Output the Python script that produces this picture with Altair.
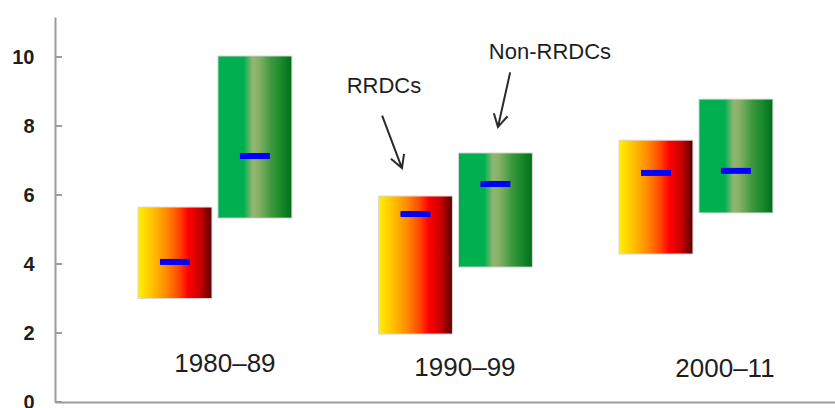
import altair as alt
import pandas as pd

# Ranges (low/high) and central value per decade, for the two country groups
periods = ["1980–89", "1990–99", "2000–11"]
groups = ["RRDCs", "Non-RRDCs"]

rrdc_low = [3.0, 1.97, 4.29]
rrdc_high = [5.65, 5.97, 7.59]
rrdc_mid = [4.06, 5.45, 6.64]

non_low = [5.33, 3.91, 5.48]
non_high = [10.03, 7.22, 8.78]
non_mid = [7.13, 6.32, 6.70]

y_ticks = [0, 2, 4, 6, 8, 10]

rows = []
for i, p in enumerate(periods):
    rows.append(dict(period=p, group="RRDCs", low=rrdc_low[i], high=rrdc_high[i], mid=rrdc_mid[i]))
    rows.append(dict(period=p, group="Non-RRDCs", low=non_low[i], high=non_high[i], mid=non_mid[i]))
df = pd.DataFrame(rows)
period_df = pd.DataFrame({"period": periods})

FONT = "Liberation Sans"
INK = "#1e1e1e"
AXIS_GREY = "#9b9b9b"

x_scale = alt.Scale(domain=periods, paddingInner=0.36, paddingOuter=0.3016, align=0.572)
off_scale = alt.Scale(domain=groups, paddingInner=0.075, paddingOuter=0)
y_scale = alt.Scale(domain=[0, 11.16], nice=False, zero=True)

x_axis = alt.Axis(labels=False, ticks=False, title=None, grid=False,
                  domainColor=AXIS_GREY, domainWidth=2)
y_axis = alt.Axis(values=y_ticks, ticks=False, grid=False, title=None,
                  domainColor=AXIS_GREY, domainWidth=2,
                  labelFont=FONT, labelFontSize=20, labelFontWeight="bold",
                  labelColor=INK, labelPadding=21)

x_enc = alt.X("period:N", scale=x_scale, axis=x_axis, sort=periods)
off_enc = alt.XOffset("group:N", scale=off_scale, sort=groups)


def ydatum(v):
    return alt.Y(datum=v, type="quantitative", scale=y_scale, axis=y_axis)


warm = alt.Gradient(
    gradient="linear", x1=0, x2=1, y1=0, y2=0,
    stops=[
        alt.GradientStop(color="#FFF200", offset=0.0),
        alt.GradientStop(color="#FFBF00", offset=0.2),
        alt.GradientStop(color="#FF8C00", offset=0.38),
        alt.GradientStop(color="#FF4A00", offset=0.55),
        alt.GradientStop(color="#FF0000", offset=0.68),
        alt.GradientStop(color="#D00000", offset=0.83),
        alt.GradientStop(color="#5A0000", offset=1.0),
    ],
)
green = alt.Gradient(
    gradient="linear", x1=0, x2=1, y1=0, y2=0,
    stops=[
        alt.GradientStop(color="#00B050", offset=0.0),
        alt.GradientStop(color="#00B050", offset=0.35),
        alt.GradientStop(color="#93B672", offset=0.47),
        alt.GradientStop(color="#86B066", offset=0.55),
        alt.GradientStop(color="#3C983E", offset=0.72),
        alt.GradientStop(color="#1A8A2A", offset=0.85),
        alt.GradientStop(color="#006E1E", offset=1.0),
    ],
)


def range_bars(group, fill):
    return (
        alt.Chart(df)
        .transform_filter(alt.datum.group == group)
        .mark_bar(fill=fill, fillOpacity=1, stroke="#d8d8d8", strokeWidth=1)
        .encode(
            x=x_enc,
            xOffset=off_enc,
            y=alt.Y("low:Q", scale=y_scale, axis=y_axis),
            y2="high:Q",
        )
    )


mids = (
    alt.Chart(df)
    .mark_tick(color="#0000FF", thickness=6, size=30, opacity=1)
    .encode(x=x_enc, xOffset=off_enc, y=alt.Y("mid:Q", scale=y_scale, axis=y_axis))
)

# Decade labels sit inside the plot, just above the baseline
label_nudge = {"1980–89": (10, 1.10), "1990–99": (9.5, 0.99), "2000–11": (29, 0.96)}
year_labels = []
for p in periods:
    dx, yv = label_nudge[p]
    year_labels.append(
        alt.Chart(period_df)
        .transform_filter(alt.datum.period == p)
        .mark_text(dx=dx, font=FONT, fontSize=26, color=INK, align="center", baseline="middle")
        .encode(x=x_enc, y=ydatum(yv), text="period:N")
    )

# Group call-outs with arrows, anchored on the 1990–99 pair
ARROW = "M0,-4 L0,0 M-0.5,-0.9 L0,0 L0.5,-0.9"
anchor = alt.Chart(period_df).transform_filter(alt.datum.period == "1990–99")


def callout(text, dx, ty, tip_dx, tip_y, angle):
    label = anchor.mark_text(
        text=text, dx=dx, font=FONT, fontSize=22, color=INK, align="center", baseline="middle"
    ).encode(x=x_enc, y=ydatum(ty))
    arrow = anchor.mark_point(
        shape=ARROW, size=784, angle=angle, filled=False, color="#2b2b2b",
        strokeWidth=2, opacity=1, xOffset=tip_dx,
    ).encode(x=x_enc, y=ydatum(tip_y))
    return label + arrow


rrdc_callout = callout("RRDCs", -71.5, 9.17, -53.5, 6.78, 339.3)
non_callout = callout("Non-RRDCs", 94.5, 10.14, 42.5, 7.97, 12.6)

# Inward-pointing y-axis ticks
inner_ticks = (
    alt.Chart(pd.DataFrame({"v": y_ticks}))
    .mark_rule(color=AXIS_GREY, strokeWidth=2)
    .encode(y=alt.Y("v:Q", scale=y_scale, axis=y_axis), x=alt.value(0), x2=alt.value(7))
)

chart = (
    alt.layer(
        range_bars("RRDCs", warm),
        range_bars("Non-RRDCs", green),
        mids,
        *year_labels,
        rrdc_callout,
        non_callout,
        inner_ticks,
    )
    .properties(
        width=780,
        height=385,
        autosize=alt.AutoSizeParams(type="none"),
        padding={"left": 55, "top": 17, "right": 0, "bottom": 6},
        background="white",
    )
    .configure_view(stroke=None)
)

chart.save("out.html", embed_options={"renderer": "svg", "actions": False})
